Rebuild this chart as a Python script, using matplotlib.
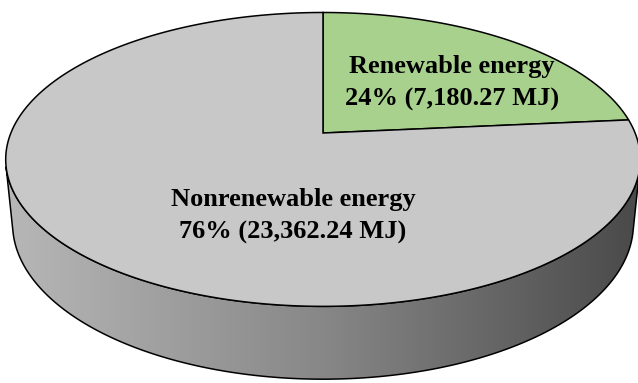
import numpy as np
import matplotlib.pyplot as plt
from matplotlib.patches import Polygon
from matplotlib.colors import LinearSegmentedColormap

labels = ['Renewable energy', 'Nonrenewable energy']
energy_mj = [7180.27, 23362.24]
colors = ['#a9d18e', '#c8c8c8']

# camera for the 3D disc
elev = np.radians(27.1)
dist = 4.95
focal = 1545
cx, cy = 323, 133
thick = 0.234


def project(theta, y):
    X = np.cos(theta)
    Z = np.sin(theta)
    yc = y * np.cos(elev) + Z * np.sin(elev)
    zc = Z * np.cos(elev) - y * np.sin(elev) + dist
    return cx + focal * X / zc, cy - focal * yc / zc


fig = plt.figure(figsize=(6.38, 3.83), dpi=100)
ax = fig.add_axes([0, 0, 1, 1])
ax.set_xlim(0, 638)
ax.set_ylim(383, 0)
ax.axis('off')

# side wall, only the part facing the camera
k = np.arcsin(1 / (dist * np.cos(elev)))
t = np.linspace(np.pi + k, 2 * np.pi - k, 300)
tx, ty = project(t, 0)
bx, by = project(t[::-1], -thick)
side = Polygon(np.column_stack([np.r_[tx, bx], np.r_[ty, by]]), closed=True,
               facecolor='none', edgecolor='black', linewidth=1.1, zorder=2)
ax.add_patch(side)
grad = LinearSegmentedColormap.from_list('side', ['#b8b8b8', '#888888', '#4a4a4a'])
img = ax.imshow(np.linspace(0, 1, 256).reshape(1, -1), cmap=grad, aspect='auto',
                extent=(0, 638, 383, 0), zorder=1)
img.set_clip_path(side)

# top face wedges, clockwise from 12 o'clock
total = sum(energy_mj)
start = np.pi / 2
for val, col in zip(energy_mj, colors):
    sweep = 2 * np.pi * val / total
    th = np.linspace(start, start - sweep, 400)
    px, py = project(th, 0)
    pts = np.column_stack([np.r_[cx, px], np.r_[cy, py]])
    ax.add_patch(Polygon(pts, closed=True, facecolor=col, edgecolor='black',
                         linewidth=1.1, zorder=3))
    start -= sweep

label_pos = [(452, 83), (293, 216)]
for name, val, (lx, ly) in zip(labels, energy_mj, label_pos):
    pct = 100 * val / total
    ax.text(lx, ly, f'{name}\n{pct:.0f}% ({val:,.2f} MJ)', ha='center', va='center',
            family='Liberation Serif', fontweight='bold', fontsize=19,
            linespacing=1.5, zorder=4)

fig.savefig('out.png', dpi=100)
